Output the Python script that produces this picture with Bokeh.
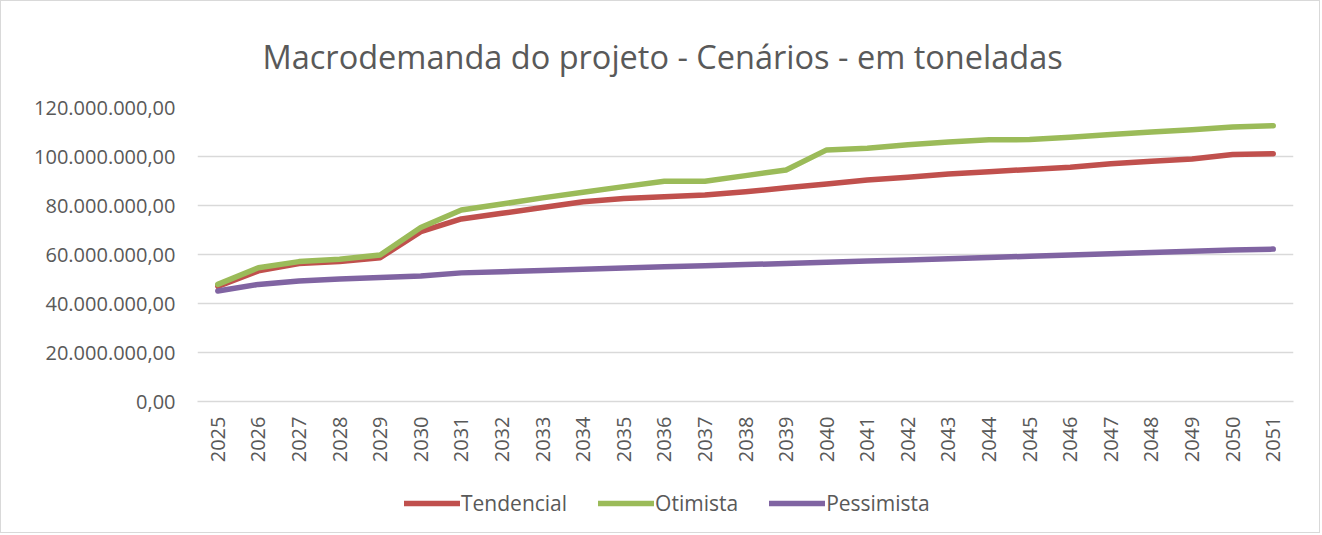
import math
from bokeh.plotting import figure
from bokeh.layouts import column
from bokeh.models import (FactorRange, Range1d, FixedTicker, CustomJSTickFormatter,
                          Legend, LegendItem, ColumnDataSource)
from bokeh.embed import file_html
from bokeh.resources import INLINE

title_text = "Macrodemanda do projeto - Cenários - em toneladas"
years = [str(y) for y in range(2025, 2052)]

tendencial = [47.0, 53.3, 56.3, 57.1, 58.7, 69.3, 74.5, 76.8, 79.2, 81.5, 82.9, 83.6, 84.3,
              85.6, 87.2, 88.8, 90.4, 91.5, 92.9, 93.8, 94.7, 95.6, 97.0, 98.1, 99.0, 100.8, 101.1]
otimista = [47.8, 54.6, 57.1, 58.1, 59.8, 71.0, 78.2, 80.6, 83.1, 85.4, 87.7, 89.9, 89.9,
            92.2, 94.5, 102.7, 103.4, 104.8, 105.9, 106.8, 106.9, 107.9, 109.0, 110.0, 110.9, 112.0, 112.6]
pessimista = [45.1, 47.8, 49.2, 50.0, 50.6, 51.2, 52.5, 53.0, 53.5, 54.0, 54.5, 55.0, 55.4,
              55.9, 56.3, 56.8, 57.3, 57.8, 58.3, 58.8, 59.3, 59.8, 60.3, 60.8, 61.3, 61.8, 62.2]
series_names = ["Tendencial", "Otimista", "Pessimista"]
series_colors = ["#C0504D", "#9BBB59", "#8064A2"]
y_ticks = [0, 20e6, 40e6, 60e6, 80e6, 100e6, 120e6]

TXT = "#595959"
GRID = "#D9D9D9"
FONT = "Open Sans"

p = figure(width=1318, height=475, output_backend="svg", toolbar_location=None,
           x_range=FactorRange(*years, range_padding=0, factor_padding=0),
           y_range=Range1d(0, 120e6),
           min_border_left=196, min_border_right=26, min_border_top=106, min_border_bottom=75)

p.title.text = title_text
p.title.text_font = FONT
p.title.text_font_size = "32.5px"
p.title.text_font_style = "normal"
p.title.text_color = TXT
p.title.align = "left"
p.title.offset = 65
p.title.standoff = 57

p.outline_line_color = None
p.xgrid.grid_line_color = None
p.ygrid.grid_line_color = GRID
p.ygrid.grid_line_width = 1.5
p.ygrid.ticker = FixedTicker(ticks=y_ticks)

p.yaxis.ticker = FixedTicker(ticks=y_ticks)
p.yaxis.formatter = CustomJSTickFormatter(code="""
const s = Math.round(tick).toString().replace(/\\B(?=(\\d{3})+(?!\\d))/g, '.');
return s + ',00';
""")
p.yaxis.axis_line_color = None
p.yaxis.major_tick_line_color = None
p.yaxis.major_tick_out = 0
p.yaxis.minor_tick_line_color = None
p.yaxis.major_label_text_font = FONT
p.yaxis.major_label_text_font_size = "20px"
p.yaxis.major_label_text_color = TXT
p.yaxis.major_label_standoff = 22

p.xaxis.axis_line_color = GRID
p.xaxis.axis_line_width = 1.5
p.xaxis.major_tick_line_color = None
p.xaxis.major_tick_out = 0
p.xaxis.minor_tick_line_color = None
p.xaxis.major_label_orientation = math.pi / 2
p.xaxis.major_label_text_font = FONT
p.xaxis.major_label_text_font_size = "20px"
p.xaxis.major_label_text_color = TXT
p.xaxis.major_label_standoff = 15

for name, vals, col in zip(series_names, [tendencial, otimista, pessimista], series_colors):
    src = ColumnDataSource(dict(x=years, y=[v * 1e6 for v in vals]))
    p.line("x", "y", source=src, line_color=col, line_width=5.5,
           line_join="round", line_cap="round")

# legend strip below the chart (its renderers lie outside its visible range)
lf = figure(width=1318, height=56, output_backend="svg", toolbar_location=None,
            x_range=Range1d(0, 1), y_range=Range1d(0, 1),
            min_border_left=0, min_border_right=0, min_border_top=0, min_border_bottom=0)
lf.axis.visible = False
lf.grid.visible = False
lf.outline_line_color = None
items = []
for name, col in zip(series_names, series_colors):
    r = lf.line(x=[-10, -9], y=[-10, -9], line_color=col, line_width=5.5, line_cap="round")
    items.append(LegendItem(label=name, renderers=[r]))
legend = Legend(items=items, orientation="horizontal", location=(207, 15),
                glyph_width=56, glyph_height=12, label_standoff=1, spacing=31,
                label_text_font=FONT, label_text_font_size="21px", label_text_color=TXT,
                border_line_color=None, background_fill_alpha=0, padding=0, margin=0)
lf.add_layout(legend, "center")

layout = column(p, lf, spacing=0)
layout.styles = {"border": "1px solid #D9D9D9"}
open("out.html", "w").write(file_html(layout, INLINE))
